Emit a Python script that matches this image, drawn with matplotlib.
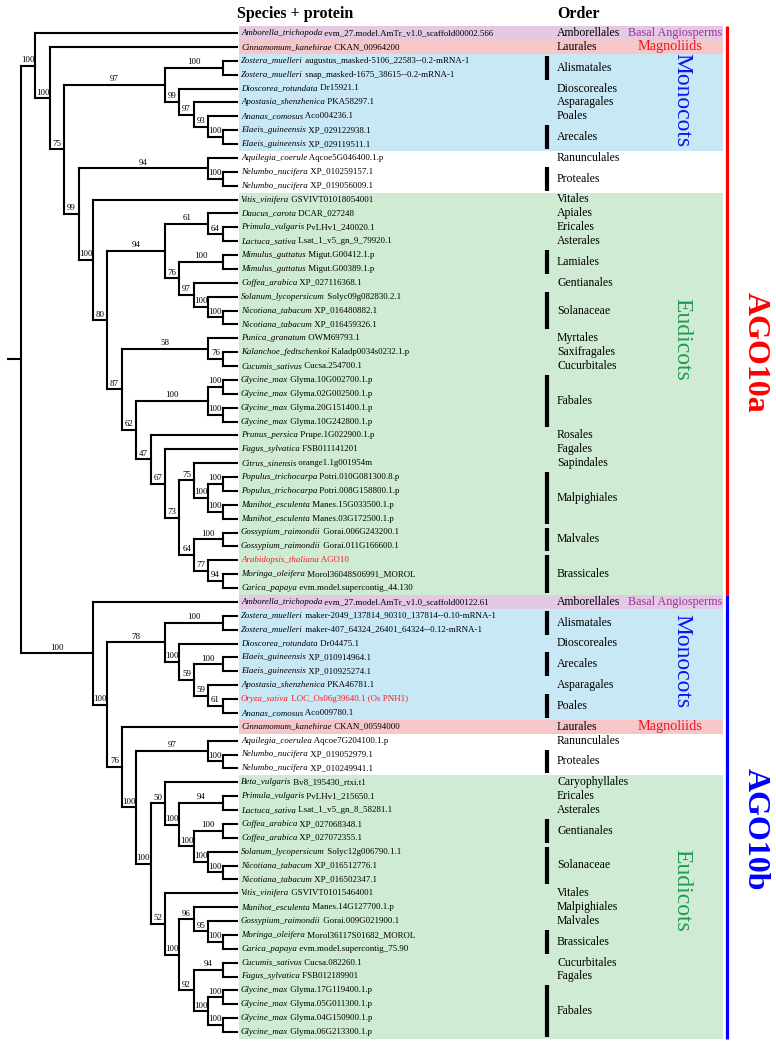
import re
import matplotlib
matplotlib.use("Agg")
import matplotlib.pyplot as plt
from matplotlib.patches import Rectangle

SERIF = ["Liberation Serif", "DejaVu Serif"]

# ---------------- data ----------------
species = [
    "Amborella_trichopoda", "Cinnamomum_kanehirae", "Zostera_muelleri", "Zostera_muelleri",
    "Dioscorea_rotundata", "Apostasia_shenzhenica", "Ananas_comosus", "Elaeis_guineensis",
    "Elaeis_guineensis", "Aquilegia_coerule", "Nelumbo_nucifera", "Nelumbo_nucifera",
    "Vitis_vinifera", "Daucus_carota", "Primula_vulgaris", "Lactuca_sativa",
    "Mimulus_guttatus", "Mimulus_guttatus", "Coffea_arabica", "Solanum_lycopersicum",
    "Nicotiana_tabacum", "Nicotiana_tabacum", "Punica_granatum", "Kalanchoe_fedtschenkoi",
    "Cucumis_sativus", "Glycine_max", "Glycine_max", "Glycine_max", "Glycine_max",
    "Prunus_persica", "Fagus_sylvatica", "Citrus_sinensis", "Populus_trichocarpa",
    "Populus_trichocarpa", "Manihot_esculenta", "Manihot_esculenta", "Gossypium_raimondii",
    "Gossypium_raimondii", "Arabidopsis_thaliana", "Moringa_oleifera", "Carica_papaya",
    "Amborella_trichopoda", "Zostera_muelleri", "Zostera_muelleri", "Dioscorea_rotundata",
    "Elaeis_guineensis", "Elaeis_guineensis", "Apostasia_shenzhenica", "Oryza_sativa",
    "Ananas_comosus", "Cinnamomum_kanehirae", "Aquilegia_coerulea", "Nelumbo_nucifera",
    "Nelumbo_nucifera", "Beta_vulgaris", "Primula_vulgaris", "Lactuca_sativa",
    "Coffea_arabica", "Coffea_arabica", "Solanum_lycopersicum", "Nicotiana_tabacum",
    "Nicotiana_tabacum", "Vitis_vinifera", "Manihot_esculenta", "Gossypium_raimondii",
    "Moringa_oleifera", "Carica_papaya", "Cucumis_sativus", "Fagus_sylvatica",
    "Glycine_max", "Glycine_max", "Glycine_max", "Glycine_max",
]
proteins = [
    "evm_27.model.AmTr_v1.0_scaffold00002.566", "CKAN_00964200",
    "augustus_masked-5106_22583--0.2-mRNA-1", "snap_masked-1675_38615--0.2-mRNA-1",
    "Dr15921.1", "PKA58297.1", "Aco004236.1", "XP_029122938.1", "XP_029119511.1",
    "Aqcoe5G046400.1.p", "XP_010259157.1", "XP_019056009.1", "GSVIVT01018054001",
    "DCAR_027248", "PvLHv1_240020.1", "Lsat_1_v5_gn_9_79920.1", "Migut.G00412.1.p",
    "Migut.G00389.1.p", "XP_027116368.1", "Solyc09g082830.2.1", "XP_016480882.1",
    "XP_016459326.1", "OWM69793.1", "Kaladp0034s0232.1.p", "Cucsa.254700.1",
    "Glyma.10G002700.1.p", "Glyma.02G002500.1.p", "Glyma.20G151400.1.p",
    "Glyma.10G242800.1.p", "Prupe.1G022900.1.p", "FSB011141201", "orange1.1g001954m",
    "Potri.010G081300.8.p", "Potri.008G158800.1.p", "Manes.15G033500.1.p",
    "Manes.03G172500.1.p", "Gorai.006G243200.1", "Gorai.011G166600.1", "AGO10",
    "Morol36048S06991_MOROL", "evm.model.supercontig_44.130",
    "evm_27.model.AmTr_v1.0_scaffold00122.61",
    "maker-2049_137814_90310_137814--0.10-mRNA-1",
    "maker-407_64324_26401_64324--0.12-mRNA-1", "Dr04475.1", "XP_010914964.1",
    "XP_010925274.1", "PKA46781.1", "LOC_Os06g39640.1 (Os PNH1)", "Aco009780.1",
    "CKAN_00594000", "Aqcoe7G204100.1.p", "XP_019052979.1", "XP_010249941.1",
    "Bv8_195430_rtxi.t1", "PvLHv1_215650.1", "Lsat_1_v5_gn_8_58281.1",
    "XP_027068348.1", "XP_027072355.1", "Solyc12g006790.1.1", "XP_016512776.1",
    "XP_016502347.1", "GSVIVT01015464001", "Manes.14G127700.1.p", "Gorai.009G021900.1",
    "Morol36117S01682_MOROL", "evm.model.supercontig_75.90", "Cucsa.082260.1",
    "FSB012189901", "Glyma.17G119400.1.p", "Glyma.05G011300.1.p",
    "Glyma.04G150900.1.p", "Glyma.06G213300.1.p",
]
red_leaves = [38, 48]

# topology (leaf = row index, number after ')' = bootstrap support)
tree_ago10a = ("(0,(1,(((2,3)100,(4,(5,(6,(7,8)100)93)97)99)97,((9,(10,11)100)94,"
               "(12,(((13,(14,15)64)61,((16,17)100,(18,(19,(20,21)100)100)97)76)94,"
               "((22,(23,24)76)58,(((25,26)100,(27,28)100)100,(29,(30,((31,((32,33)100,"
               "(34,35)100)100)75,((36,37)100,(38,(39,40)94)77)64)73)67)47)62)87)80)100)99)75)100)100")
tree_ago10b = ("(41,(((42,43)100,(44,((45,46)100,(47,(48,49)61)59)59)100)78,"
               "(50,((51,(52,53)100)97,((54,((55,56)94,((57,58)100,(59,(60,61)100)100)100)100)50,"
               "(62,((63,(64,(65,66)100)95)96,((67,68)94,((69,70)100,(71,72)100)100)92)100)52)100)100)76)100)100")

band_rows = [(0, 0, "basal"), (1, 1, "magno"), (2, 8, "mono"), (12, 40, "eudi"),
             (41, 41, "basal"), (42, 49, "mono"), (50, 50, "magno"), (54, 72, "eudi")]

order_names = ["Amborellales", "Laurales", "Alismatales", "Dioscoreales", "Asparagales",
               "Poales", "Arecales", "Ranunculales", "Proteales", "Vitales", "Apiales",
               "Ericales", "Asterales", "Lamiales", "Gentianales", "Solanaceae", "Myrtales",
               "Saxifragales", "Cucurbitales", "Fabales", "Rosales", "Fagales", "Sapindales",
               "Malpighiales", "Malvales", "Brassicales",
               "Amborellales", "Alismatales", "Dioscoreales", "Arecales", "Asparagales",
               "Poales", "Laurales", "Ranunculales", "Proteales", "Caryophyllales",
               "Ericales", "Asterales", "Gentianales", "Solanaceae", "Vitales",
               "Malpighiales", "Malvales", "Brassicales", "Cucurbitales", "Fagales", "Fabales"]
order_first = [0, 1, 2, 4, 5, 6, 7, 9, 10, 12, 13, 14, 15, 16, 18, 19, 22, 23, 24, 25, 29, 30,
               31, 32, 36, 38,
               41, 42, 44, 45, 47, 48, 50, 51, 52, 54, 55, 56, 57, 59, 62, 63, 64, 65, 67, 68, 69]
order_last = [0, 1, 3, 4, 5, 6, 8, 9, 11, 12, 13, 14, 15, 17, 18, 21, 22, 23, 24, 28, 29, 30,
              31, 35, 37, 40,
              41, 43, 44, 46, 47, 49, 50, 51, 53, 54, 55, 56, 58, 61, 62, 63, 64, 66, 67, 68, 72]

group_names = ["Basal Angiosperms", "Magnoliids", "Monocots", "Eudicots",
               "Basal Angiosperms", "Monocots", "Magnoliids", "Eudicots"]
group_rows = [0, 1, 4.8, 22.1, 41, 45.3, 50, 61.8]
family_names = ["AGO10a", "AGO10b"]
family_rows = [(0, 40), (41, 72)]
family_label_rows = [23.0, 57.4]

# ---------------- styling / layout ----------------
W, H = 776, 1050
Y0, DY = 33.0, 13.875
X_LEAF, STEP = 237.0, 14.4
TEXT_X = 241.0
BAND_X0, BAND_X1 = 239.0, 723.0
BAR_X, ORDER_X = 547.0, 557.0
band_colors = {"basal": "#e3c9e3", "magno": "#f7c6c8", "mono": "#c9e8f6", "eudi": "#cfebd3"}
group_style = {
    "Basal Angiosperms": dict(color="#9b2fa0", size=8.7, rot=0, x=675),
    "Magnoliids": dict(color="#f0141e", size=10.3, rot=0, x=670),
    "Monocots": dict(color="#0a14f0", size=17, rot=270, x=682),
    "Eudicots": dict(color="#1e9b50", size=17, rot=270, x=682),
}
family_colors = ["#ff0000", "#0000ff"]
LEAF_FS, SUP_FS = 6.4, 6.4


def parse(s):
    pos = 0

    def node():
        nonlocal pos
        if s[pos] == "(":
            pos += 1
            kids = [node()]
            while s[pos] == ",":
                pos += 1
                kids.append(node())
            pos += 1
            m = re.match(r"\d*", s[pos:]).group()
            pos += len(m)
            return {"kids": kids, "sup": m}
        m = re.match(r"\d+", s[pos:]).group()
        pos += len(m)
        return {"leaf": int(m)}

    return node()


root = {"kids": [parse(tree_ago10a), parse(tree_ago10b)], "sup": ""}


def layout(n):
    if "leaf" in n:
        n["h"] = 0
        n["y"] = Y0 + n["leaf"] * DY
    else:
        for k in n["kids"]:
            layout(k)
        n["h"] = 1 + max(k["h"] for k in n["kids"])
        n["y"] = (n["kids"][0]["y"] + n["kids"][-1]["y"]) / 2
    n["x"] = X_LEAF - STEP * n["h"]


layout(root)

fig = plt.figure(figsize=(W / 100, H / 100), dpi=100)
ax = fig.add_axes([0, 0, 1, 1])
ax.set_xlim(0, W)
ax.set_ylim(H, 0)
ax.axis("off")

# background bands
for r0, r1, key in band_rows:
    ax.add_patch(Rectangle((BAND_X0, Y0 + r0 * DY - DY / 2), BAND_X1 - BAND_X0,
                           (r1 - r0 + 1) * DY, color=band_colors[key], lw=0, zorder=0))

LW = 1.5


def draw(n):
    if "leaf" in n:
        return
    ys = [k["y"] for k in n["kids"]]
    ax.plot([n["x"], n["x"]], [min(ys), max(ys)], color="black", lw=LW,
            solid_capstyle="projecting", zorder=2)
    for k in n["kids"]:
        ax.plot([n["x"], k["x"]], [k["y"], k["y"]], color="black", lw=LW,
                solid_capstyle="projecting", zorder=2)
        if "sup" in k and k["sup"]:
            ax.text((n["x"] + k["x"]) / 2, k["y"] - 1.6, k["sup"], ha="center", va="bottom",
                    fontsize=SUP_FS, family=SERIF, zorder=3)
        draw(k)


draw(root)
ax.plot([8, root["x"]], [root["y"], root["y"]], color="black", lw=LW,
        solid_capstyle="projecting")

# leaf labels
renderer = fig.canvas.get_renderer()
inv = ax.transData.inverted()
for i, (sp, pr) in enumerate(zip(species, proteins)):
    col = "#ff1a1a" if i in red_leaves else "black"
    y = Y0 + i * DY
    t = ax.text(TEXT_X, y, sp, style="italic", fontsize=LEAF_FS, family=SERIF,
                color=col, va="center", ha="left", zorder=3)
    bb = t.get_window_extent(renderer)
    x_end = inv.transform((bb.x1, 0))[0]
    ax.text(x_end, y, " " + pr, fontsize=LEAF_FS, family=SERIF, color=col,
            va="center", ha="left", zorder=3)

# headers
ax.text(237, 14, "Species + protein", fontsize=11.5, fontweight="bold", family=SERIF,
        va="center", ha="left")
ax.text(ORDER_X, 14, "Order", fontsize=11.5, fontweight="bold", family=SERIF,
        va="center", ha="left")

# order labels and bars
for name, r0, r1 in zip(order_names, order_first, order_last):
    ya, yb = Y0 + r0 * DY, Y0 + r1 * DY
    ax.text(ORDER_X, (ya + yb) / 2, name, fontsize=8.5, family=SERIF, va="center",
            ha="left", zorder=3)
    if r1 > r0:
        ax.plot([BAR_X, BAR_X], [ya - 5, yb + 5], color="black", lw=3.0,
                solid_capstyle="butt", zorder=3)

# group labels
for name, r in zip(group_names, group_rows):
    st = group_style[name]
    ax.text(st["x"], Y0 + r * DY, name, color=st["color"], fontsize=st["size"],
            rotation=st["rot"], family=SERIF, ha="center", va="center", zorder=3)

# family bars and labels
for name, (r0, r1), lr, col in zip(family_names, family_rows, family_label_rows, family_colors):
    ax.plot([726.5, 726.5], [Y0 + r0 * DY - DY / 2, Y0 + r1 * DY + DY / 2], color=col,
            lw=2.3, solid_capstyle="butt")
    ax.text(755, Y0 + lr * DY, name, color=col, fontsize=23, fontweight="bold",
            rotation=270, family=SERIF, ha="center", va="center")

fig.savefig("out.png", dpi=100)
